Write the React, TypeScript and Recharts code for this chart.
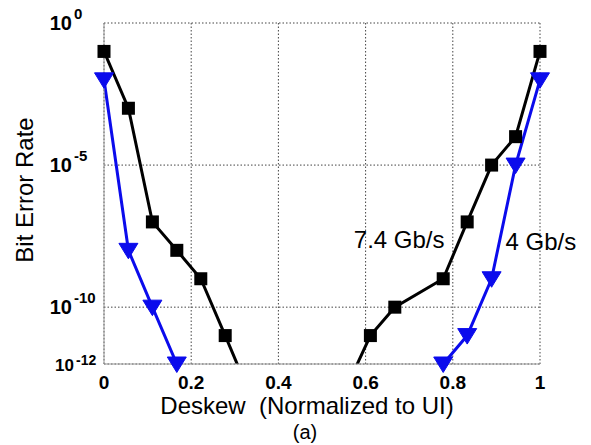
import {
  ComposedChart,
  Line,
  Scatter,
  XAxis,
  YAxis,
  CartesianGrid,
  ReferenceDot,
} from 'recharts';

const FONT = '"Liberation Sans", Arial, Helvetica, sans-serif';
const BLUE = '#0b0bec';

// deskew (normalized to UI) and bit error rate
const blackDeskew = [0, 0.056, 0.111, 0.167, 0.222, 0.278, 0.333, 0.556, 0.611, 0.667, 0.778, 0.833, 0.889, 0.944, 1];
const blackBer = [1e-1, 1e-3, 1e-7, 1e-8, 1e-9, 1e-11, 1e-13, 1.5e-13, 1e-11, 1e-10, 1e-9, 1e-7, 1e-5, 1e-4, 1e-1];

const blueDeskew = [0, 0.056, 0.111, 0.167, 0.5, 0.778, 0.833, 0.889, 0.944, 1];
const blueBer = [1e-2, 1e-8, 1e-10, 1e-12, null, 1e-12, 1e-11, 1e-9, 1e-5, 1e-2];

const xTicks = [0, 0.2, 0.4, 0.6, 0.8, 1];
const yTicks = [1e-12, 1e-10, 1e-5, 1];

const rows = (xs: number[], ys: (number | null)[]) => xs.map((x, i) => ({ x, ber: ys[i] }));
const blackRows = rows(blackDeskew, blackBer);
const blueRows = rows(blueDeskew, blueBer);
const visible = (r: { ber: number | null }) => r.ber != null && r.ber >= 1e-12;

function DeskewTick({ x, y, payload }: any) {
  return (
    <text x={x} y={y + 23} textAnchor="middle" fontFamily={FONT} fontWeight="bold" fontSize={19} fill="#000">
      {String(payload.value)}
    </text>
  );
}

function BerTick({ x, y, payload }: any) {
  const exp = Math.round(Math.log10(payload.value));
  const small = exp <= -12;
  const end = small ? x - 28 : x - 30;
  return (
    <g fontFamily={FONT} fontWeight="bold" fill="#000">
      <text x={end} y={y + 7} textAnchor="end" fontSize={small ? 17 : 20}>
        10
      </text>
      <text x={end + 2} y={small ? y + 1 : y - 4} textAnchor="start" fontSize={small ? 14 : 15}>
        {String(exp)}
      </text>
    </g>
  );
}

const Square = ({ cx, cy }: any) => <rect x={cx - 6.5} y={cy - 6.5} width={13} height={13} fill="#000" />;

const DownTriangle = ({ cx, cy }: any) => (
  <polygon
    points={`${cx - 9.5},${cy - 7} ${cx + 9.5},${cy - 7} ${cx},${cy + 8.5}`}
    fill={BLUE}
    stroke={BLUE}
    strokeWidth={1}
  />
);

export default function App() {
  return (
    <div style={{ position: 'absolute', left: 0, top: 0, width: 591, height: 445, background: '#fff' }}>
      <ComposedChart width={591} height={445} margin={{ top: 23, right: 51, left: 44, bottom: 51 }}>
        <CartesianGrid stroke="#444" strokeDasharray="1.5 2" />
        <XAxis
          dataKey="x"
          type="number"
          domain={[0, 1]}
          ticks={xTicks}
          height={30}
          tick={<DeskewTick />}
          tickLine={false}
          tickSize={0}
          axisLine={{ stroke: '#999' }}
        />
        <XAxis xAxisId="top" orientation="top" type="number" domain={[0, 1]} height={0} tick={false} tickLine={false} axisLine={{ stroke: '#999' }} />
        <YAxis
          scale="log"
          type="number"
          domain={[1e-12, 1]}
          allowDataOverflow
          ticks={yTicks}
          width={60}
          tick={<BerTick />}
          tickLine={false}
          tickSize={0}
          axisLine={{ stroke: '#999' }}
        />
        <YAxis yAxisId="right" orientation="right" width={0} tick={false} tickLine={false} axisLine={{ stroke: '#999' }} />
        <YAxis yAxisId="mk" dataKey="ber" scale="log" type="number" domain={[1e-12, 1]} hide />

        <Line data={blackRows} dataKey="ber" type="linear" stroke="#000" strokeWidth={3} dot={false} activeDot={false} isAnimationActive={false} />
        <Line data={blueRows} dataKey="ber" type="linear" stroke={BLUE} strokeWidth={3} dot={false} activeDot={false} isAnimationActive={false} />
        <Scatter data={blackRows.filter(visible)} yAxisId="mk" shape={Square} isAnimationActive={false} />
        <Scatter data={blueRows.filter(visible)} yAxisId="mk" shape={DownTriangle} isAnimationActive={false} />

        <ReferenceDot
          x={0.677}
          y={2.5e-8}
          r={0}
          fill="none"
          stroke="none"
          ifOverflow="visible"
          label={{ value: '7.4 Gb/s', position: 'center', fontFamily: FONT, fontSize: 24, fill: '#000' }}
        />
        <ReferenceDot
          x={1.002}
          y={2e-8}
          r={0}
          fill="none"
          stroke="none"
          ifOverflow="visible"
          label={{ value: '4 Gb/s', position: 'center', fontFamily: FONT, fontSize: 24, fill: '#000' }}
        />
      </ComposedChart>

      <div
        style={{
          position: 'absolute',
          left: 0,
          width: 614,
          top: 394,
          lineHeight: '24px',
          textAlign: 'center',
          fontFamily: FONT,
          fontSize: 24,
          whiteSpace: 'pre',
          color: '#000',
        }}
      >
        Deskew  (Normalized to UI)
      </div>
      <div
        style={{
          position: 'absolute',
          left: 0,
          width: 610,
          top: 422,
          lineHeight: '20px',
          textAlign: 'center',
          fontFamily: FONT,
          fontSize: 20,
          color: '#000',
        }}
      >
        (a)
      </div>
      <div
        style={{
          position: 'absolute',
          left: 25,
          top: 190,
          transform: 'translate(-50%, -50%) rotate(-90deg)',
          fontFamily: FONT,
          fontSize: 24,
          whiteSpace: 'pre',
          color: '#000',
        }}
      >
        Bit Error Rate
      </div>
    </div>
  );
}
